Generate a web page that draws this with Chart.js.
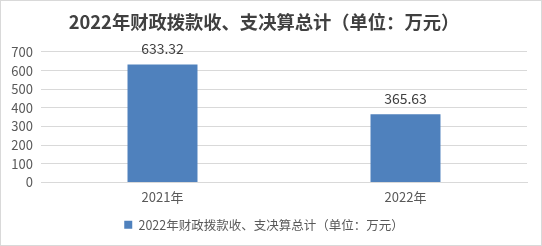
<!DOCTYPE html>
<html>
<head>
<meta charset="utf-8">
<script src="https://cdn.jsdelivr.net/npm/chart.js@4/dist/chart.umd.min.js"></script>
<style>
    html, body {
        margin: 0;
        padding: 0;
        background: #ffffff;
    }
    #marco {
        width: 542px;
        height: 246px;
        box-sizing: border-box;
        border: 1px solid #d9d9d9;
        position: relative;
    }
</style>
</head>
<body>
<div id="marco">
    <canvas id="barChart" width="540" height="244"></canvas>
</div>
<script>

const CATEGORIAS = [
    "2021年",
    "2022年"
];

const VALORES = [
    633.32,
    365.63
];

const TICKS_Y = [0, 100, 200, 300, 400, 500, 600, 700];

const TITULO = "2022年财政拨款收、支决算总计（单位：万元）";

const SERIE = "2022年财政拨款收、支决算总计（单位：万元）";

const FUENTE = "'Noto Sans CJK SC', 'Noto Sans', sans-serif";

// etiquetas de valor encima de cada barra
const etiquetasValor = {
    id: "etiquetasValor",
    afterDatasetsDraw(chart) {
        const ctx = chart.ctx;
        const meta = chart.getDatasetMeta(0);
        ctx.save();
        ctx.font = "14px " + FUENTE;
        ctx.fillStyle = "#404040";
        ctx.textAlign = "center";
        ctx.textBaseline = "middle";
        meta.data.forEach((bar, i) => {
            ctx.fillText(
                VALORES[i].toFixed(2),
                bar.x,
                bar.y - 16
            );
        });
        ctx.restore();
    }
};

function crearGrafico() {

    const ctx =
        document.getElementById(
            "barChart"
        );

    window.barChartInstance =
        new Chart(ctx, {

            type: "bar",

            data: {
                labels: CATEGORIAS,
                datasets: [
                    {
                        label: SERIE,
                        data: VALORES,
                        backgroundColor: "#4f81bd",
                        borderWidth: 0,
                        barPercentage: 0.36,
                        categoryPercentage: 0.8
                    }
                ]
            },

            options: {
                responsive: false,
                animation: false,
                layout: {
                    padding: {
                        left: 0,
                        right: 14,
                        top: 0,
                        bottom: 4
                    }
                },
                plugins: {
                    title: {
                        display: true,
                        text: TITULO,
                        color: "#404040",
                        font: {
                            size: 18.3,
                            weight: "bold",
                            family: FUENTE
                        },
                        padding: {
                            top: 10,
                            bottom: 19
                        }
                    },
                    legend: {
                        position: "bottom",
                        labels: {
                            boxWidth: 8,
                            boxHeight: 8,
                            padding: 6,
                            color: "#595959",
                            font: {
                                size: 12.5,
                                family: FUENTE
                            }
                        }
                    },
                    tooltip: {
                        enabled: false
                    }
                },
                scales: {
                    x: {
                        grid: {
                            display: false,
                            drawTicks: false
                        },
                        border: {
                            display: true,
                            color: "#d9d9d9"
                        },
                        ticks: {
                            padding: 2,
                            color: "#595959",
                            font: {
                                size: 13,
                                lineHeight: 2,
                                family: FUENTE
                            }
                        }
                    },
                    y: {
                        min: 0,
                        max: 700,
                        afterFit(scale) {
                            scale.width = 40;
                        },
                        afterBuildTicks(scale) {
                            scale.ticks = TICKS_Y.map(v => ({ value: v }));
                        },
                        border: {
                            display: false
                        },
                        grid: {
                            color: "#d9d9d9",
                            drawTicks: false
                        },
                        ticks: {
                            autoSkip: false,
                            padding: 8,
                            color: "#595959",
                            font: {
                                size: 13,
                                family: FUENTE
                            }
                        }
                    }
                }
            },

            plugins: [etiquetasValor]

        });
}

crearGrafico();

</script>
</body>
</html>
